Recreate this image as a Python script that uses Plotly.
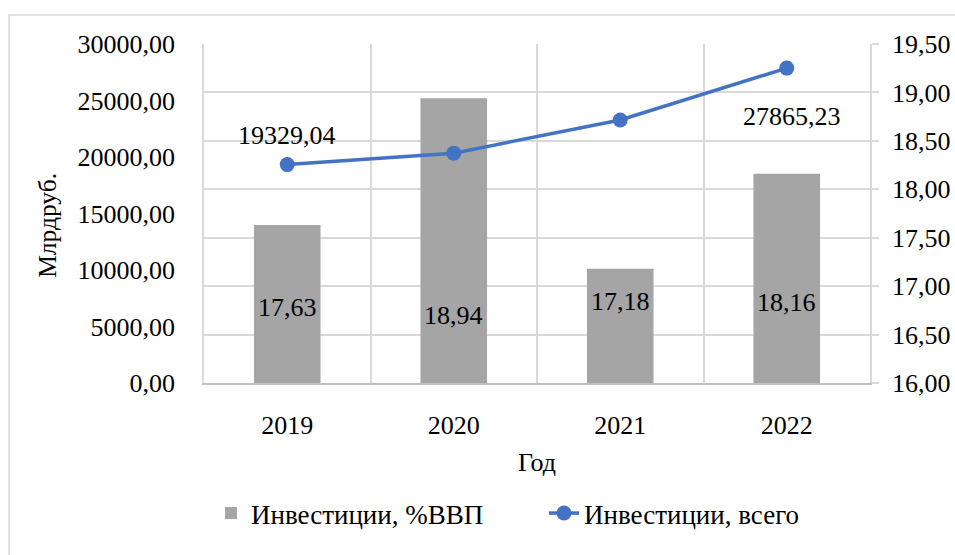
import plotly.graph_objects as go

years = ["2019", "2020", "2021", "2022"]
invest_gdp_pct = [17.63, 18.94, 17.18, 18.16]
invest_total = [19329.04, 20340.0, 23280.0, 27865.23]
bar_label_y = [16.78, 16.70, 16.84, 16.83]

FONT = "Liberation Serif"
FS = 26
GRID = "#d9d9d9"

xpos = list(range(len(years)))
boundaries = [i - 0.5 for i in range(len(years) + 1)]

fig = go.Figure()

fig.add_trace(go.Bar(
    x=xpos, y=invest_gdp_pct, name="Инвестиции, %ВВП",
    marker=dict(color="#a5a5a5", line=dict(width=0)),
    width=0.4, yaxis="y",
))
fig.add_trace(go.Scatter(
    x=xpos, y=invest_total, name="Инвестиции, всего",
    mode="lines+markers",
    line=dict(color="#4472c4", width=3.5),
    marker=dict(color="#4472c4", size=15),
    yaxis="y2",
))

annotations = []
for xi, v, ly in zip(xpos, invest_gdp_pct, bar_label_y):
    annotations.append(dict(
        x=xi, y=ly, xref="x", yref="y",
        text=f"{v:.2f}".replace(".", ","), showarrow=False,
        font=dict(family=FONT, size=FS, color="black"),
    ))
annotations.append(dict(
    x=xpos[0], y=invest_total[0], xref="x", yref="y2",
    text=f"{invest_total[0]:.2f}".replace(".", ","), showarrow=False,
    yshift=29, font=dict(family=FONT, size=FS, color="black"),
))
annotations.append(dict(
    x=xpos[-1], y=invest_total[-1], xref="x", yref="y2",
    text=f"{invest_total[-1]:.2f}".replace(".", ","), showarrow=False,
    yshift=-48, xshift=5, font=dict(family=FONT, size=FS, color="black"),
))
annotations.append(dict(
    x=-0.236, y=0.466, xref="paper", yref="paper", text="Млрдруб.",
    textangle=-90, showarrow=False, xanchor="center", yanchor="middle",
    font=dict(family=FONT, size=25.5, color="black"),
))

fig.update_layout(
    width=955, height=555,
    margin=dict(l=204, r=85, t=44, b=172, autoexpand=False),
    paper_bgcolor="white", plot_bgcolor="white",
    separators=", ",
    font=dict(family=FONT, size=FS, color="black"),
    showlegend=True,
    legend=dict(
        orientation="h", x=0.0105, xanchor="left", y=-0.385, yanchor="middle",
        font=dict(family=FONT, size=27, color="black"),
        entrywidth=288, entrywidthmode="pixels",
    ),
    xaxis=dict(
        range=[-0.5, len(years) - 0.5], tickmode="array", tickvals=xpos, ticktext=years,
        showgrid=False, zeroline=False,
        minor=dict(tickmode="array", tickvals=boundaries, showgrid=True,
                   gridcolor=GRID, gridwidth=1.5, ticks=""),
        showline=True, linecolor="#bfbfbf", linewidth=2,
        ticks="", ticklabelstandoff=18, tickangle=0,
        title=dict(text="Год", font=dict(family=FONT, size=FS), standoff=14),
    ),
    yaxis=dict(
        side="right", range=[16, 19.5], dtick=0.5, tickformat=".2f",
        showgrid=True, gridcolor=GRID, gridwidth=1.5,
        showline=True, linecolor=GRID, linewidth=1.5,
        ticks="outside", ticklen=7, tickcolor=GRID, tickwidth=1.5,
        ticklabelstandoff=8, zeroline=False,
    ),
    yaxis2=dict(
        overlaying="y", side="left", range=[0, 30000], dtick=5000,
        tickformat=".2f", showgrid=False, zeroline=False,
        showline=True, linecolor=GRID, linewidth=1.5,
        ticks="", ticklabelstandoff=22,
    ),
    annotations=annotations,
    shapes=[dict(
        type="rect", xref="paper", yref="paper",
        x0=-0.2928, x1=1.2, y0=-0.7, y1=1.0855,
        line=dict(color=GRID, width=1.5), fillcolor="rgba(0,0,0,0)", layer="below",
    )],
)

fig.write_html(
    "out.html",
    config={"displayModeBar": False},
    post_script="document.body.style.margin='0';document.body.style.overflow='hidden';",
)
